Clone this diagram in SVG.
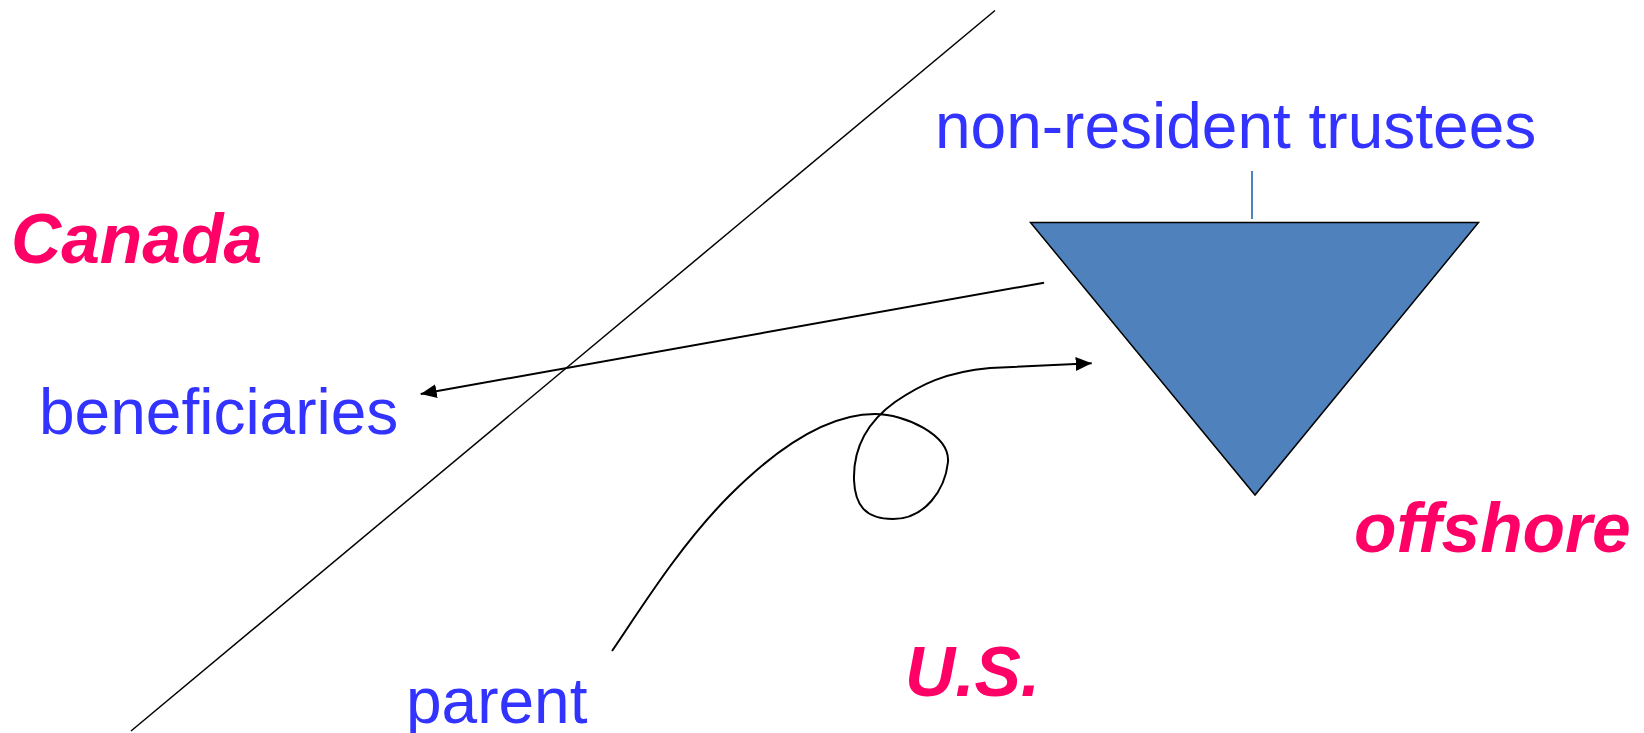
<svg xmlns="http://www.w3.org/2000/svg" width="1644" height="733" viewBox="0 0 1644 733">
<style>
.reg{font-family:"Liberation Sans",Arial,sans-serif;font-size:64px;fill:#3333FF}
.big{font-family:"Liberation Sans",Arial,sans-serif;font-size:69.5px;font-weight:bold;font-style:italic;fill:#FF0066}
.ln{fill:none;stroke:#000;stroke-width:2}
</style>
<defs>
<marker id="arr" markerUnits="userSpaceOnUse" markerWidth="17" markerHeight="15" refX="16" refY="7" orient="auto">
<path d="M0,0 L16,7 L0,14 z" fill="#000"/>
</marker>
</defs>
<rect width="1644" height="733" fill="#fff"/>
<g id="border">
<line x1="995" y1="10.5" x2="131" y2="731" stroke="#000" stroke-width="1.5"/>
</g>
<g id="canada"><text class="big" x="11" y="263">Canada</text></g>
<g id="us"><text class="big" x="905" y="696">U.S.</text></g>
<g id="offshore"><text class="big" x="1354" y="552">offshore</text></g>
<g id="beneficiaries"><text class="reg" x="39" y="434">beneficiaries</text></g>
<g id="parent"><text class="reg" x="406" y="723">parent</text></g>
<g id="trust">
<text class="reg" x="935" y="148">non-resident trustees</text>
<line x1="1252" y1="171" x2="1252" y2="219" stroke="#4F81BD" stroke-width="2"/>
<polygon points="1030.5,222.5 1478.5,222.5 1255,495" fill="#4F81BD" stroke="#000" stroke-width="1.5"/>
</g>
<g id="connectors">
<line class="ln" x1="1044" y1="282.7" x2="420.7" y2="394" marker-end="url(#arr)"/>
<path class="ln" d="M612,651 C640,610 680,545 730,495 C780,445 830,414 875,414 C905,414 950,435 948,462 C945,490 925,519 893,519 C865,519 855,505 854,480 C853,445 870,420 895,402 C920,385 945,372 990,368 L1091.7,363.3" marker-end="url(#arr)"/>
</g>
</svg>
